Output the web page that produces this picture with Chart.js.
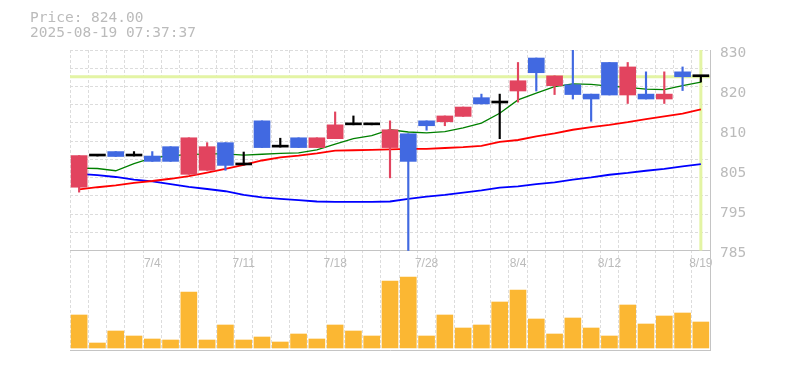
<!DOCTYPE html>
<html><head><meta charset="utf-8">
<script src="https://cdn.jsdelivr.net/npm/chart.js@4.4.1/dist/chart.umd.min.js"></script>
<style>html,body{margin:0;padding:0;background:#fff;}canvas{display:block;}</style>
</head><body>
<canvas id="c" width="785" height="370"></canvas>
<script>
// ---- data ----
const dates = ['6/30','7/1','7/2','7/3','7/4','7/7','7/8','7/9','7/10','7/11','7/14','7/15','7/16','7/17','7/18','7/22','7/23','7/24','7/25','7/28','7/29','7/30','7/31','8/1','8/4','8/5','8/6','8/7','8/8','8/12','8/13','8/14','8/15','8/18','8/19'];
const xTickLabels = ['7/4','7/11','7/18','7/28','8/4','8/12','8/19'];
const opens  = [799.2,806.2,807.2,806.2,806.2,808.3,802.1,803.0,809.2,804.2,814.1,808.2,810.3,808.1,810.1,813.2,813.2,808.1,811.2,814.1,813.9,815.1,819.3,818.1,820.8,828.2,822.0,822.2,820.1,827.2,819.9,820.1,819.0,825.1,824.0];
const highs  = [806.3,806.2,807.2,807.2,807.2,808.3,810.3,809.2,809.2,807.1,814.1,810.2,810.3,810.3,816.1,815.2,813.2,814.1,811.2,814.1,815.2,817.2,820.1,820.1,827.2,828.2,824.2,830.5,820.1,827.2,827.2,825.1,825.1,826.2,824.0];
const lows   = [798.1,806.2,806.1,806.2,805.0,805.0,802.1,803.0,803.0,804.2,808.1,808.2,808.1,808.1,810.1,813.2,813.2,801.3,785.0,812.0,813.0,815.1,817.9,810.1,818.3,820.8,820.0,819.0,814.0,819.9,818.0,819.0,818.0,820.9,822.8];
const closes = [806.3,806.2,806.1,806.2,805.0,805.0,810.3,808.3,804.1,804.2,808.1,808.2,808.1,810.3,813.2,813.2,813.2,812.1,805.0,813.0,815.2,817.2,817.9,818.1,823.1,824.9,824.2,820.0,819.0,819.9,826.2,819.0,820.1,824.0,824.0];
const ma5  = [803.5,803.4,802.9,804.5,805.8,806.3,806.5,806.7,806.7,806.4,806.6,806.8,806.9,807.6,808.9,810.1,810.8,812.1,811.6,811.4,811.7,812.5,813.6,815.8,818.8,820.3,821.8,822.4,822.3,821.9,821.6,821.2,821.1,822.0,822.8];
const ma25 = [798.7,799.2,799.6,800.2,800.6,801.1,801.7,802.5,803.3,804.2,805.2,805.9,806.3,806.8,807.4,807.5,807.6,807.7,807.8,807.8,808.0,808.2,808.5,809.4,809.8,810.6,811.3,812.1,812.7,813.2,813.8,814.5,815.1,815.7,816.7];
const ma75 = [802.2,801.9,801.5,800.9,800.5,799.9,799.3,798.8,798.3,797.5,796.9,796.6,796.3,796.0,795.9,795.9,795.9,796.0,796.6,797.1,797.5,798.0,798.5,799.1,799.4,799.9,800.3,800.9,801.4,802.0,802.4,802.9,803.3,803.9,804.4];
const volumes = [3300,500,1700,1200,900,800,5600,800,2300,800,1100,600,1400,900,2300,1700,1200,6700,7100,1200,3300,2000,2300,4600,5800,2900,1400,3000,2000,1200,4300,2400,3200,3500,2600];
const yTickValues = [785,794,803,812,821,830];
const yTickLabels = ['785','795','805','810','820','830'];
const timestamp = '2025-08-19 07:37:37';

// ---- styling / layout ----
const C_UP = '#e2445f', C_DOWN = '#4169e1', C_DOJI = '#000000';
const GRAY_TXT = '#bbbbbb', AXIS = '#c4c4c4', GRID = '#dcdcdc', PRICE_LINE = '#e3f4a4';
const PMAX = yTickValues[yTickValues.length-1], PMIN_VIS = yTickValues[0];
const priceFrac = 200.5/300;   // share of plot height used by price panel
const extra = (1-priceFrac)/priceFrac;
const lastPrice = closes[closes.length-1];
const colorAt = i => closes[i] > opens[i] ? C_UP : (closes[i] < opens[i] ? C_DOWN : C_DOJI);

const bodies = opens.map((o,i)=>[o, closes[i]]);
const wicks = lows.map((l,i)=>[l, highs[i]]);

const overlay = {
  id:'overlay',
  beforeDatasetsDraw(chart){
    const {ctx, chartArea:a, scales:{x,y}} = chart;
    const py = y.getPixelForValue(lastPrice);
    const px = x.getPixelForValue(dates.length-1);
    ctx.save();
    ctx.strokeStyle = PRICE_LINE; ctx.lineWidth = 3;
    ctx.beginPath();
    ctx.moveTo(a.left, py); ctx.lineTo(a.right, py);
    ctx.moveTo(px, a.top); ctx.lineTo(px, y.getPixelForValue(PMIN_VIS));
    ctx.stroke();
    ctx.restore();
  },
  afterDraw(chart){
    const ctx = chart.ctx;
    ctx.save();
    ctx.fillStyle = GRAY_TXT;
    ctx.font = '14.5px "DejaVu Sans Mono"';
    ctx.textBaseline = 'middle';
    ctx.fillText('Price: ' + lastPrice.toFixed(2), 30, 18);
    ctx.fillText(timestamp, 30, 33);
    ctx.restore();
  }
};

new Chart(document.getElementById('c'), {
  data: {
    labels: dates,
    datasets: [
      {type:'bar', label:'body', data: bodies, yAxisID:'y', xAxisID:'x', grouped:false, order:1,
       barThickness:16, minBarLength:2, borderWidth:0, backgroundColor: c=>colorAt(c.dataIndex)},
      {type:'bar', label:'wick', data: wicks, yAxisID:'y', xAxisID:'x', grouped:false, order:2,
       barThickness:1.5, borderWidth:0, backgroundColor: c=>colorAt(c.dataIndex)},
      {type:'line', label:'MA5', data: ma5, yAxisID:'y', xAxisID:'x', order:3, borderColor:'#008000', borderWidth:1.3, pointRadius:0, fill:false, tension:0},
      {type:'line', label:'MA25', data: ma25, yAxisID:'y', xAxisID:'x', order:3, borderColor:'#ff0000', borderWidth:1.8, pointRadius:0, fill:false, tension:0},
      {type:'line', label:'MA75', data: ma75, yAxisID:'y', xAxisID:'x', order:3, borderColor:'#0000ff', borderWidth:1.8, pointRadius:0, fill:false, tension:0},
      {type:'bar', label:'volume', data: volumes, yAxisID:'vol', xAxisID:'x', grouped:false, order:4,
       barThickness:16, borderWidth:0, backgroundColor:'#fbb733'}
    ]
  },
  options: {
    responsive:false, animation:false, devicePixelRatio:1,
    layout:{padding:{left:70, top:50, right:0, bottom:20}},
    plugins:{legend:{display:false}, tooltip:{enabled:false}},
    scales:{
      x:{type:'category', offset:true, position:'bottom',
         grid:{display:true, offset:true, color:GRID, lineWidth:1, drawTicks:false},
         border:{display:true, color:AXIS, width:1, dash:[3,2]},
         ticks:{display:false},
         afterFit(s){ s.height = 0; }},
      xl:{type:'category', offset:true, position:{y: PMIN_VIS},
         grid:{display:false, drawTicks:false},
         border:{display:true, color:AXIS, width:1},
         ticks:{autoSkip:false, maxRotation:0, padding:6, color:GRAY_TXT,
                font:{family:'"Liberation Sans"', size:12},
                callback(v,i){ const l = dates[i]; return xTickLabels.includes(l) ? l : ''; }}},
      y:{type:'linear', position:'right', min: PMIN_VIS - (PMAX-PMIN_VIS)*extra, max: PMAX,
         afterBuildTicks(s){ s.ticks = yTickValues.map(v=>({value:v})); },
         afterFit(s){ s.width = 75; },
         grid:{display:false, drawTicks:false},
         border:{display:true, color:AXIS, width:1},
         ticks:{padding:10, labelOffset:3, color:GRAY_TXT, font:{family:'"DejaVu Sans Mono"', size:14.5},
                callback(v){ const k = yTickValues.indexOf(v); return k>=0 ? yTickLabels[k] : ''; }}},
      yg:{type:'linear', position:'right', min: -11*extra, max: 11,
         afterBuildTicks(s){ s.ticks = Array.from({length:12},(_,k)=>({value:k})); },
         afterFit(s){ s.width = 0; },
         grid:{display:true, color:GRID, lineWidth:1, drawTicks:false},
         border:{display:false, dash:[3,2]},
         ticks:{display:false}},
      vol:{type:'linear', display:false, min:-200, max:29800}
    }
  },
  plugins:[overlay]
});
</script>
</body></html>
